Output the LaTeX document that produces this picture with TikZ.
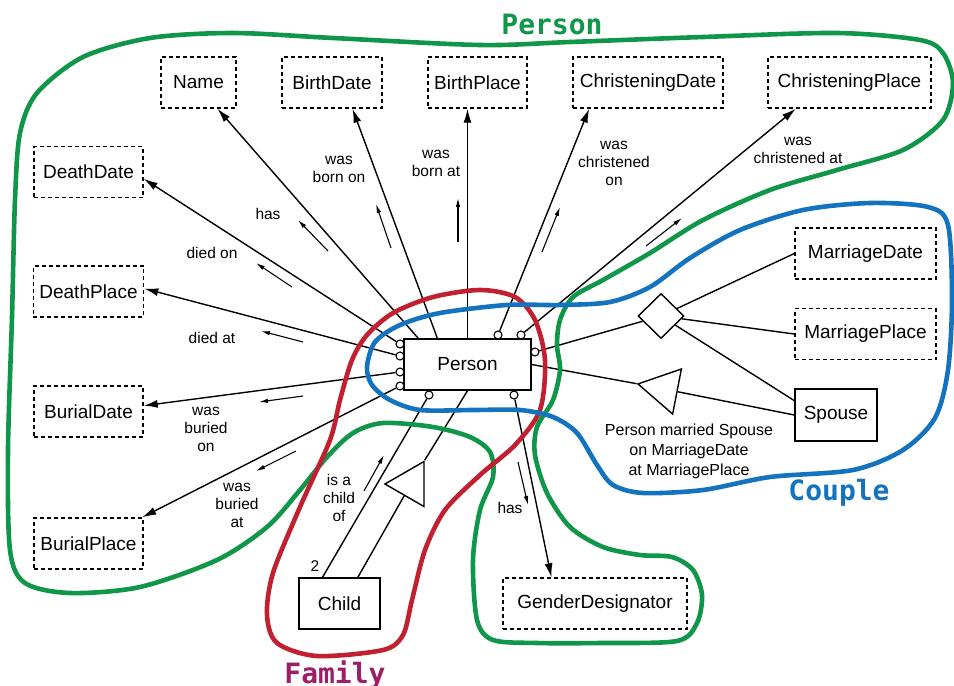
\documentclass[tikz,border=0pt]{standalone}
\usepackage{fontspec}
\setmainfont{Liberation Sans}
\newfontfamily\titrefont{DejaVu Sans Mono}
\usetikzlibrary{shapes.geometric,arrows.meta}

\definecolor{vertzone}{RGB}{16,150,72}
\definecolor{rougezone}{RGB}{192,32,48}
\definecolor{bleuzone}{RGB}{20,115,190}
\definecolor{famille}{RGB}{155,30,105}

\begin{document}
\begin{tikzpicture}[x=1pt,y=-1pt,line width=1.4pt,
  attribut/.style={draw,dash pattern=on 4pt off 3pt,minimum height=51pt,inner xsep=6pt,font=\fontsize{19}{22}\selectfont},
  entite/.style={draw,fill=white,minimum height=51pt,inner xsep=6pt,font=\fontsize{19}{22}\selectfont},
  rond/.style={draw,fill=white,circle,inner sep=0pt,minimum size=8pt,line width=1.1pt},
  fleche/.style={-{Latex[length=14pt,width=8pt]}},
  etiq/.style={font=\fontsize{15.5}{18}\selectfont,align=center,inner sep=0pt},
  sens/.style={-{Latex[length=9pt,width=4.5pt]},line width=1.1pt},
  titre/.style={font=\titrefont\bfseries\fontsize{28}{32}\selectfont,inner sep=0pt},
  zone/.style={line width=4.6pt,line join=round}]

\useasboundingbox (0,0) rectangle (954,686);

% attributs (cadres en tirets)
\node[attribut,minimum width=75pt] (Name) at (198.5,82.5) {Name};
\node[attribut,minimum width=100pt] (BirthDate) at (332,82.5) {BirthDate};
\node[attribut,minimum width=99pt] (BirthPlace) at (477.5,82.5) {BirthPlace};
\node[attribut,minimum width=150pt] (ChristeningDate) at (648,82.5) {ChristeningDate};
\node[attribut,minimum width=163pt] (ChristeningPlace) at (849.5,82.5) {ChristeningPlace};
\node[attribut,minimum width=109pt] (DeathDate) at (88.5,172) {DeathDate};
\node[attribut,minimum width=109pt] (DeathPlace) at (88.5,291.5) {DeathPlace};
\node[attribut,minimum width=109pt] (BurialDate) at (88.5,411.5) {BurialDate};
\node[attribut,minimum width=109pt] (BurialPlace) at (88.5,543.5) {BurialPlace};
\node[attribut,minimum width=141pt] (MarriageDate) at (865.5,253.5) {MarriageDate};
\node[attribut,minimum width=141pt] (MarriagePlace) at (865.5,334) {MarriagePlace};
\node[attribut,minimum width=184pt] (GenderDesignator) at (595,603.5) {GenderDesignator};

% entites
\node[entite,minimum width=127pt] (Person) at (467.5,364.5) {Person};
\node[entite,minimum width=82pt,minimum height=52pt] (Spouse) at (836,415) {Spouse};
\node[entite,minimum width=81pt] (Child) at (339.5,603.5) {Child};

% relations
\node[draw,diamond,fill=white,inner sep=0pt,minimum width=46pt,minimum height=45pt] (Mariage) at (661,316) {};
\node[draw,regular polygon,regular polygon sides=3,shape border rotate=79,inner sep=0pt,minimum size=53pt] (Union) at (664,389) {};
\node[draw,regular polygon,regular polygon sides=3,shape border rotate=90,inner sep=0pt,minimum size=52pt] (Filiation) at (411,484) {};

% petits ronds sur Person
\node[rond] (oDeathDate) at (400,344) {};
\node[rond] (oDeathPlace) at (400,356) {};
\node[rond] (oBurialDate) at (400,372) {};
\node[rond] (oBurialPlace) at (400,386) {};
\node[rond] (oChrDate) at (498,335) {};
\node[rond] (oChrPlace) at (521,335) {};
\node[rond] (oMariage) at (535,352) {};
\node[rond] (oEnfant) at (429,395) {};
\node[rond] (oGenre) at (514,395) {};

% liens vers les attributs
\draw[fleche] (Person.152) -- (Name.-54);
\draw[fleche] (Person.139) -- (BirthDate.-52);
\draw[fleche] (Person.north) -- (Person.north |- BirthPlace.south);
\draw[fleche] (oChrDate) -- (ChristeningDate.-156);
\draw[fleche] (oChrPlace) -- (ChristeningPlace.-154);
\draw[fleche] (oDeathDate) -- (DeathDate.-7);
\draw[fleche] (oDeathPlace) -- (DeathPlace.3);
\draw[fleche] (oBurialDate) -- (BurialDate.6);
\draw[fleche] (oBurialPlace) -- (BurialPlace.26);
\draw[fleche] (oGenre) -- (GenderDesignator.149);

% mariage
\draw (oMariage) -- (Mariage);
\draw (Mariage) -- (MarriageDate.west);
\draw (Mariage) -- (MarriagePlace.west);
\draw (Mariage) -- (Spouse.161);
\draw (Person.east) -- (Union.corner 1);
\draw (Union) -- (Spouse.west);

% filiation
\draw (oEnfant) -- (Child.123);
\draw (Person.south) -- (Filiation.corner 3);
\draw (Filiation.side 1) -- (Child.55);
\node[etiq] (deux) at (315,566) {2};

% textes des liens
\node[etiq] (lName) at (268,214) {has};
\node[etiq] (lBirthDate) at (339,169) {was\\born on};
\node[etiq] (lBirthPlace) at (436,163.5) {was\\born at};
\node[etiq] (lChrDate) at (614,163.5) {was\\christened\\on};
\node[etiq] (lChrPlace) at (798,150) {was\\christened at};
\node[etiq] (lDeathDate) at (212,253) {died on};
\node[etiq] (lDeathPlace) at (212,338) {died at};
\node[etiq] (lBurialDate) at (206,429.5) {was\\buried\\on};
\node[etiq] (lBurialPlace) at (237,505) {was\\buried\\at};
\node[etiq] (lEnfant) at (339,497.5) {is a\\child\\of};
\node[etiq] (lGenre) at (510,508) {has};
\node[etiq,font=\fontsize{16}{20}\selectfont] (lMariage) at (689,451) {Person married Spouse\\on MarriageDate\\at MarriagePlace};

% petites fleches de sens de lecture
\foreach \xa/\ya/\xb/\yb in {328/251/298/220, 391/248/376/204, 458/242/458/198,
  542/252/560/207, 646/246/682/218, 292/287/256/263, 303/342/261/331,
  303/396/259/402, 296/451/256/471, 364/491/384/455, 518/462/528/505}
  {\draw[sens] (\xa,\ya) -- (\xb,\yb);}

% zones
\draw[zone,vertzone] plot[smooth cycle] coordinates {(12,317) (15,200) (20,133) (37,93) (83,57)
  (150,38) (233,33) (333,38) (480,45) (570,42) (703,37) (837,33) (920,40) (943,53) (953,83)
  (943,120) (903,150) (837,170) (770,190) (703,220) (650,253) (603,280) (573,297) (560,320)
  (557,345) (560,370) (553,400) (537,427) (535,455) (547,493) (570,527) (603,547) (640,555)
  (672,557) (693,570) (702,595) (697,623) (677,641) (600,643) (537,643) (493,640) (477,620)
  (473,560) (480,510) (493,477) (490,452) (470,437) (433,427) (383,423) (353,433) (327,457)
  (300,490) (267,527) (217,560) (140,587) (70,593) (25,583) (10,550) (8,450)};
\draw[zone,rougezone] plot[smooth cycle] coordinates {(367,335) (393,313) (433,297) (480,290)
  (515,297) (535,320) (545,360) (540,410) (515,445) (480,475) (445,510) (425,550) (412,600)
  (403,635) (383,650) (317,656) (277,643) (267,615) (273,573) (300,507) (330,440) (340,400)
  (352,360)};
\draw[zone,bleuzone] plot[smooth cycle] coordinates {(367,367) (375,342) (400,325) (440,313)
  (507,305) (560,305) (610,302) (650,287) (690,258) (740,230) (803,210) (870,203) (928,207)
  (948,225) (952,300) (948,370) (935,418) (903,450) (853,470) (770,477) (703,490) (643,493)
  (613,485) (597,465) (577,433) (553,417) (520,410) (473,410) (420,410) (390,400) (372,385)};

% noms des zones
\node[titre,text=vertzone] (tPerson) at (552,24) {Person};
\node[titre,text=bleuzone] (tCouple) at (839,493) {Couple};
\node[titre,text=famille,anchor=base] (tFamily) at (335,683) {Family};

\end{tikzpicture}
\end{document}
